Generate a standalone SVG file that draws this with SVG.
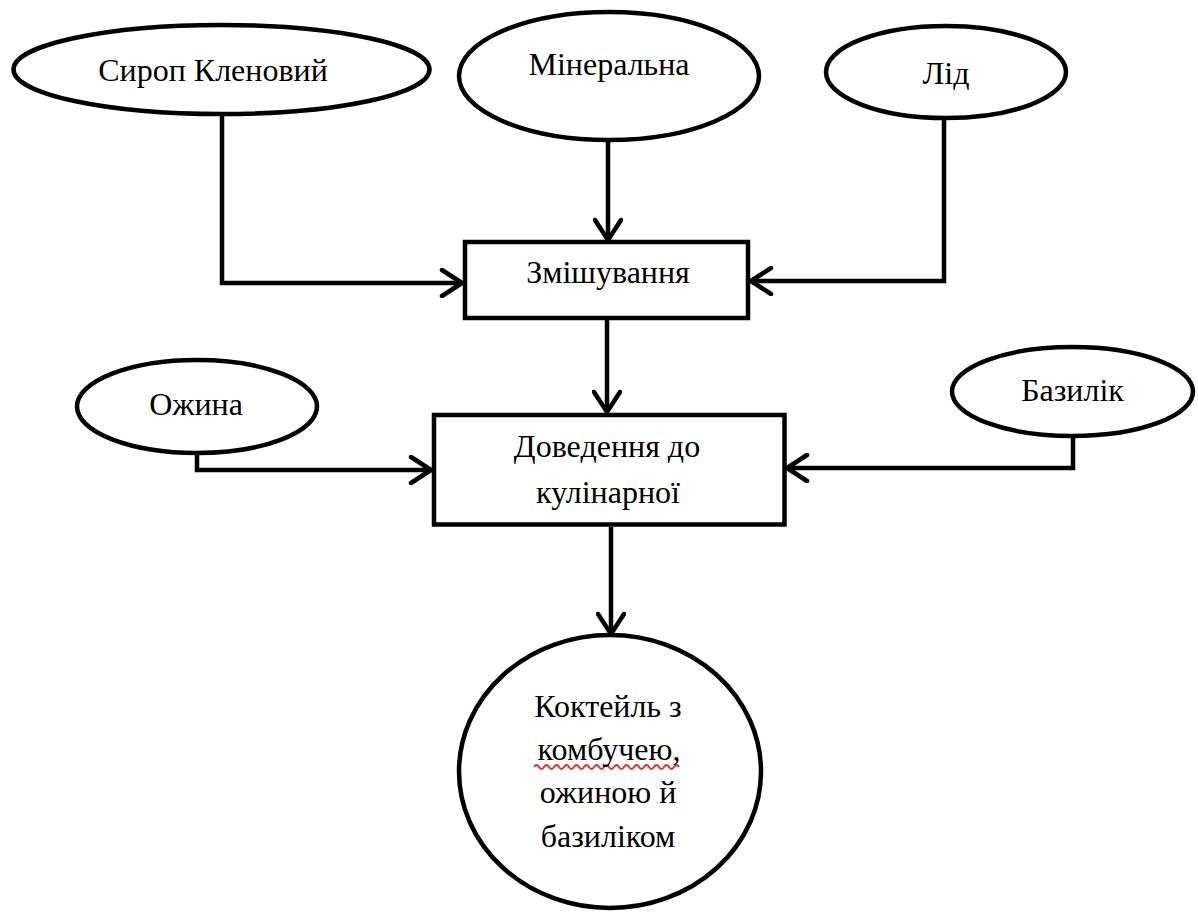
<svg xmlns="http://www.w3.org/2000/svg" width="1198" height="913" viewBox="0 0 1198 913">
<style>
.shape{fill:#fff;stroke:#000;stroke-width:4.5}
.lbl{font-family:"Liberation Serif","Times New Roman",serif;font-size:32px;fill:#000;text-anchor:middle}
.conn{fill:none;stroke:#000;stroke-width:4.5;stroke-linejoin:miter}
</style>
<defs>
<marker id="arr" viewBox="-26 -15 30 30" refX="0" refY="0" markerWidth="30" markerHeight="30" markerUnits="userSpaceOnUse" orient="auto">
<path d="M-20,-13 L0,0 L-20,13" fill="none" stroke="#000" stroke-width="4.5" stroke-linecap="round" stroke-linejoin="round"/>
</marker>
</defs>
<rect width="1198" height="913" fill="#fff"/>
<g id="connectors">
<path class="conn" d="M222,116 V283 H462" marker-end="url(#arr)"/>
<path class="conn" d="M608,142 V240" marker-end="url(#arr)"/>
<path class="conn" d="M944,118 V281 H751" marker-end="url(#arr)"/>
<path class="conn" d="M607,320 V412" marker-end="url(#arr)"/>
<path class="conn" d="M197,453 V470 H431" marker-end="url(#arr)"/>
<path class="conn" d="M1073,436 V468 H787" marker-end="url(#arr)"/>
<path class="conn" d="M611,527 V634" marker-end="url(#arr)"/>
</g>
<g id="n-syrop">
<ellipse class="shape" cx="221.5" cy="69.5" rx="208" ry="44.5"/>
<text class="lbl" x="213" y="81">Сироп Кленовий</text>
</g>
<g id="n-mineral">
<ellipse class="shape" cx="609" cy="76" rx="150" ry="64"/>
<text class="lbl" x="609" y="75">Мінеральна</text>
</g>
<g id="n-lid">
<ellipse class="shape" cx="946" cy="72" rx="120" ry="46"/>
<text class="lbl" x="946" y="84">Лід</text>
</g>
<g id="n-mixing">
<rect class="shape" x="465" y="242" width="283" height="76"/>
<text class="lbl" x="608" y="283">Змішування</text>
</g>
<g id="n-ozhyna">
<ellipse class="shape" cx="197" cy="406.5" rx="120" ry="46.5"/>
<text class="lbl" x="196" y="415">Ожина</text>
</g>
<g id="n-bazylik">
<ellipse class="shape" cx="1072.5" cy="391.5" rx="120.5" ry="44.5"/>
<text class="lbl" x="1072.5" y="401">Базилік</text>
</g>
<g id="n-finish">
<rect class="shape" x="434" y="415" width="350.5" height="109.5"/>
<text class="lbl" x="607" y="457">Доведення до</text>
<text class="lbl" x="608" y="503">кулінарної</text>
</g>
<g id="n-cocktail">
<ellipse class="shape" cx="610" cy="771.5" rx="151" ry="136.5"/>
<text class="lbl" x="608" y="717">Коктейль з</text>
<path d="M534,767 q2.5,-4 5,0 t5,0 t5,0 t5,0 t5,0 t5,0 t5,0 t5,0 t5,0 t5,0 t5,0 t5,0 t5,0 t5,0 t5,0 t5,0 t5,0 t5,0 t5,0 t5,0 t5,0 t5,0 t5,0 t5,0 t5,0 t5,0 t5,0 t5,0 t5,0" fill="none" stroke="#e0322a" stroke-width="2"/>
<text class="lbl" x="609" y="760">комбучею,</text>
<text class="lbl" x="608" y="803">ожиною й</text>
<text class="lbl" x="608" y="847">базиліком</text>
</g>
</svg>
